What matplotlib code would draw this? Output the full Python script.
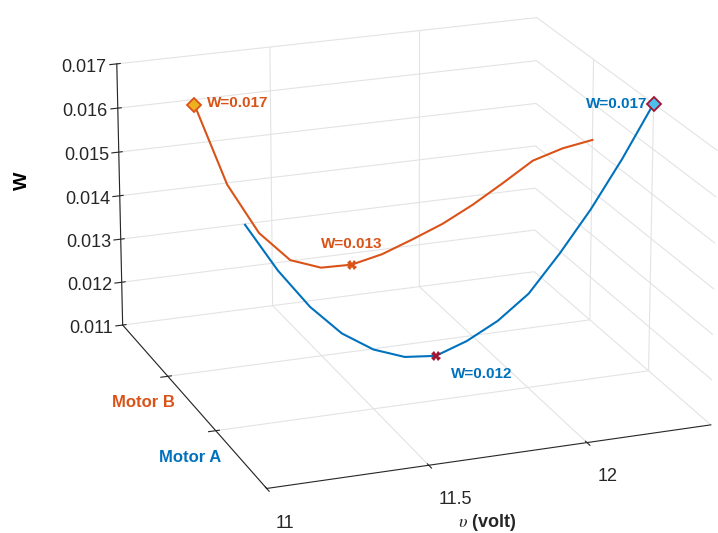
import numpy as np
import matplotlib
matplotlib.use("Agg")
import matplotlib.pyplot as plt

plt.rcParams['font.family'] = ['Liberation Sans', 'DejaVu Sans']
plt.rcParams['mathtext.fontset'] = 'stix'
plt.rcParams['grid.color'] = '#e3e3e3'
plt.rcParams['grid.linewidth'] = 0.8

# supply voltage and W for the two motors
volts = [11.1, 11.2, 11.3, 11.4, 11.5, 11.6, 11.7, 11.8, 11.9, 12.0, 12.1, 12.2, 12.3, 12.4]
w_motor_a = [0.01543, 0.01435, 0.01346, 0.01278, 0.01233, 0.01207, 0.0120,
             0.01224, 0.0126, 0.01312, 0.01393, 0.01483, 0.01586, 0.0170]
w_motor_b = [0.0170, 0.01515, 0.01398, 0.01328, 0.01302, 0.0130, 0.01315,
             0.0134, 0.01367, 0.01402, 0.01443, 0.01486, 0.01506, 0.01517]
motor_pos = [1, 2]
motor_names = ['Motor A', 'Motor B']

blue = '#0072BD'
orange = '#D95319'
yellow = '#EDB120'
cyan = '#4DBEEE'
dark_red = '#A2142F'

fig = plt.figure(figsize=(7.18, 5.33), dpi=100)
ax = fig.add_axes([0.059, 0.034, 1, 1], projection='3d', proj_type='persp', focal_length=1.6)

va = np.array(volts)
wa = np.array(w_motor_a)
wb = np.array(w_motor_b)
ya = np.full(len(va), motor_pos[0])
yb = np.full(len(va), motor_pos[1])

ax.plot(va, ya, wa, color=blue, lw=1.5)
ax.plot(va, yb, wb, color=orange, lw=1.5)

# extremes of each curve
ia_max, ia_min = np.argmax(wa), np.argmin(wa)
ib_max, ib_min = np.argmax(wb), np.argmin(wb)
ax.plot([va[ia_max]], [motor_pos[0]], [wa[ia_max]], 'D', ms=7, mfc=cyan, mec=dark_red, mew=1.3)
ax.plot([va[ib_max]], [motor_pos[1]], [wb[ib_max]], 'D', ms=7, mfc=yellow, mec=orange, mew=1.3)
ax.plot([va[ia_min]], [motor_pos[0]], [wa[ia_min]], 'X', ms=7, color=dark_red, mew=0)
ax.plot([va[ib_min]], [motor_pos[1]], [wb[ib_min]], 'X', ms=7, color=orange, mew=0)

ax.text(va[ia_max] - 0.02, motor_pos[0], wa[ia_max], 'W=%.3f' % wa[ia_max],
        color=blue, fontweight='bold', fontsize=11, ha='right', va='center')
ax.text(va[ib_max] + 0.04, motor_pos[1], wb[ib_max], 'W=%.3f' % wb[ib_max],
        color=orange, fontweight='bold', fontsize=11, ha='left', va='center')
ax.text(va[ia_min] + 0.05, motor_pos[0], wa[ia_min] - 0.0003, 'W=%.3f' % wa[ia_min],
        color=blue, fontweight='bold', fontsize=11, ha='left', va='top')
ax.text(va[ib_min], motor_pos[1], wb[ib_min] + 0.0003, 'W=%.3f' % wb[ib_min],
        color=orange, fontweight='bold', fontsize=11, ha='center', va='bottom')

ax.set_xlim(11, 12.4)
ax.set_ylim(0, 3)
ax.set_zlim(0.011, 0.017)
ax.set_xticks([11, 11.5, 12])
ax.set_xticklabels(['11', '11.5', '12'])
ax.set_yticks(motor_pos)
ax.set_yticklabels(motor_names)
ax.set_zticks(np.arange(0.011, 0.0171, 0.001))
ax.set_zticklabels(['%.3f' % t for t in np.arange(0.011, 0.0171, 0.001)])
ax.tick_params(labelsize=13, colors='#262626')
ax.tick_params(axis='y', labelsize=12)
for lab, c in zip(ax.get_yticklabels(), [blue, orange]):
    lab.set_color(c)
    lab.set_fontweight('bold')
for lab in ax.get_xticklabels():
    lab.set_horizontalalignment('left')

# x label is drawn flat under the axis
fig.text(0.678, 0.019, r'$\upsilon$ (volt)', fontsize=13, fontweight='bold',
         ha='center', va='center', color='#262626')
ax.zaxis.set_rotate_label(False)
ax.set_zlabel('W', fontsize=14, fontweight='bold', rotation=90, labelpad=14)

for axis in (ax.xaxis, ax.yaxis, ax.zaxis):
    axis.set_pane_color((1, 1, 1, 0))
    axis.pane.set_edgecolor('#e3e3e3')
    axis.line.set_color('#262626')
    axis.line.set_linewidth(0.8)

ax.view_init(elev=19.8, azim=-110.4)
ax.set_box_aspect((0.98, 0.99, 0.605), zoom=1.3)

fig.savefig('out.png', dpi=100)
